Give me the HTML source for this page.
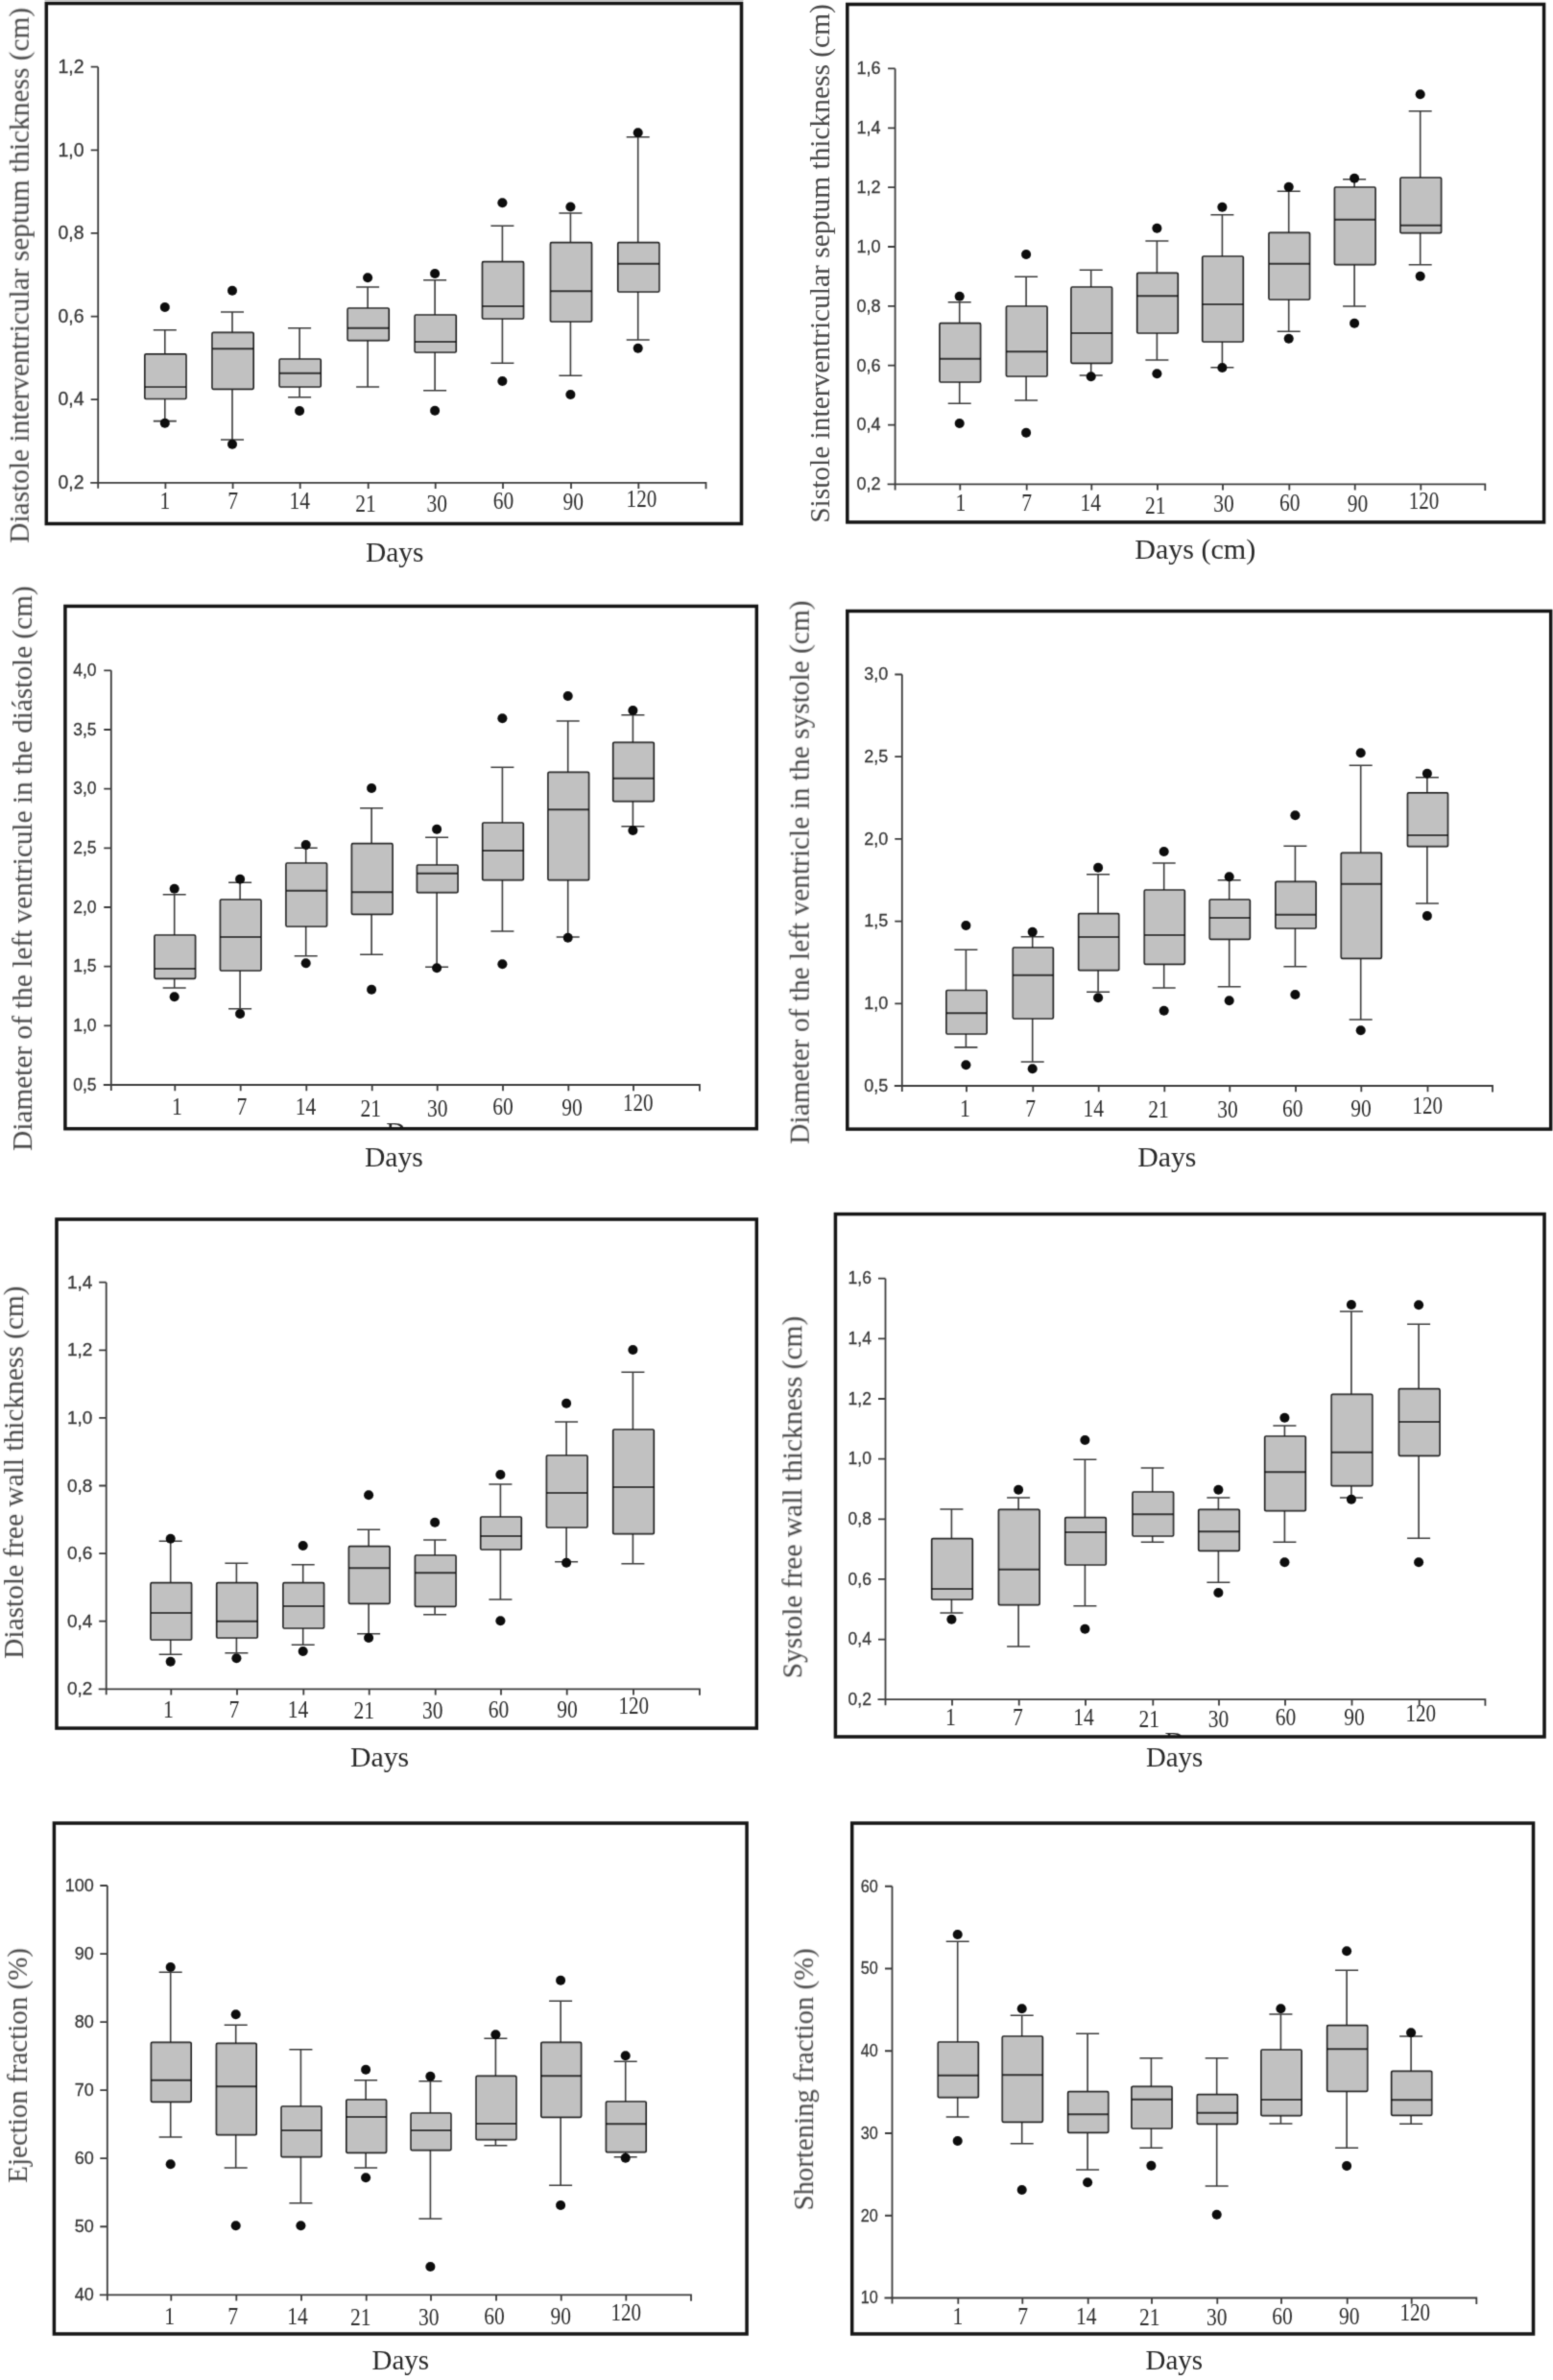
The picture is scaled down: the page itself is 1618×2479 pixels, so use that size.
<!DOCTYPE html>
<html lang="en"><head><meta charset="utf-8"><title>Echocardiographic box plots</title>
<style>html,body{margin:0;padding:0;background:#fff}svg{display:block}.fr{fill:none;stroke:#161616;stroke-width:3.5}.ax{stroke:#3c3c3c;stroke-width:1.8;fill:none}.bx{fill:#c1c1c1;stroke:#1c1c1c;stroke-width:1.7}.md{stroke:#1c1c1c;stroke-width:1.9}.wh{stroke:#3c3c3c;stroke-width:1.6;fill:none}.ot{fill:#0a0a0a}.yt{font-family:'Liberation Sans',Arial,sans-serif;font-size:18px;fill:#3a3a3a;stroke:#3a3a3a;stroke-width:0.3;text-anchor:end}.xt{font-family:'Liberation Serif','Times New Roman',serif;font-size:26px;fill:#2e2e2e;text-anchor:middle}.xl{font-family:'Liberation Serif','Times New Roman',serif;font-size:28.5px;fill:#2a2a2a}.yl{font-family:'Liberation Serif','Times New Roman',serif;font-size:29.6px;fill:#484848}</style></head><body>
<svg width="1618" height="2479" viewBox="0 0 1618 2479">
<rect width="1618" height="2479" fill="#fff"/>
<defs><filter id="soft" x="-5%" y="-5%" width="110%" height="110%"><feConvolveMatrix order="3" kernelMatrix="1 5 1 5 25 5 1 5 1" divisor="49" edgeMode="none" preserveAlpha="false"/></filter></defs>
<path d="M46.5 0.5H774.5" stroke="#cfcfcf" stroke-width="1" fill="none"/>
<g id="panel1" filter="url(#soft)">
<rect class="fr" x="48.3" y="3.5" width="724.2" height="542"/>
<path class="ax" d="M102.2 69.7V508.8M94.2 502.8H735.5V509.3M94.7 416.18H102.2M94.7 329.56H102.2M94.7 242.94H102.2M94.7 156.32H102.2M94.7 69.7H102.2M172.4 502.8v6.2M242.6 502.8v6.2M312.7 502.8v6.2M383.7 502.8v6.2M453.7 502.8v6.2M524 502.8v6.2M595 502.8v6.2M665.3 502.8v6.2"/>
<text class="yt" x="87.5" y="509.08" style="font-size:19.5px">0,2</text>
<text class="yt" x="87.5" y="422.46" style="font-size:19.5px">0,4</text>
<text class="yt" x="87.5" y="335.84" style="font-size:19.5px">0,6</text>
<text class="yt" x="87.5" y="249.22" style="font-size:19.5px">0,8</text>
<text class="yt" x="87.5" y="162.6" style="font-size:19.5px">1,0</text>
<text class="yt" x="87.5" y="75.98" style="font-size:19.5px">1,2</text>
<path class="wh" d="M171.8 343.8V368.8M171.8 415.5V438.6M159.8 343.8h24M159.8 438.6h24"/>
<rect class="bx" x="150.9" y="368.8" width="43" height="46.7" rx="1.2"/>
<path class="md" d="M150.9 403.1h43"/>
<circle class="ot" cx="171.8" cy="320" r="5.0"/>
<circle class="ot" cx="171.8" cy="440.8" r="5.0"/>
<path class="wh" d="M242 325V346.3M242 405.3V458M230 325h24M230 458h24"/>
<rect class="bx" x="221.1" y="346.3" width="43" height="59" rx="1.2"/>
<path class="md" d="M221.1 363.3h43"/>
<circle class="ot" cx="242" cy="302.7" r="5.0"/>
<circle class="ot" cx="242" cy="462.8" r="5.0"/>
<path class="wh" d="M312.1 341.7V374M312.1 403V413.7M300.1 341.7h24M300.1 413.7h24"/>
<rect class="bx" x="291.2" y="374" width="43" height="29" rx="1.2"/>
<path class="md" d="M291.2 388.7h43"/>
<circle class="ot" cx="312.1" cy="428" r="5.0"/>
<path class="wh" d="M383.1 299V321M383.1 354.7V403M371.1 299h24M371.1 403h24"/>
<rect class="bx" x="362.2" y="321" width="43" height="33.7" rx="1.2"/>
<path class="md" d="M362.2 341.7h43"/>
<circle class="ot" cx="383.1" cy="289.3" r="5.0"/>
<path class="wh" d="M453.1 291.7V328M453.1 367V406.7M441.1 291.7h24M441.1 406.7h24"/>
<rect class="bx" x="432.2" y="328" width="43" height="39" rx="1.2"/>
<path class="md" d="M432.2 356h43"/>
<circle class="ot" cx="453.1" cy="285" r="5.0"/>
<circle class="ot" cx="453.1" cy="427.7" r="5.0"/>
<path class="wh" d="M523.4 235.3V272.7M523.4 332V378.3M511.4 235.3h24M511.4 378.3h24"/>
<rect class="bx" x="502.5" y="272.7" width="43" height="59.3" rx="1.2"/>
<path class="md" d="M502.5 319h43"/>
<circle class="ot" cx="523.4" cy="211.3" r="5.0"/>
<circle class="ot" cx="523.4" cy="397" r="5.0"/>
<path class="wh" d="M594.4 222V252.7M594.4 335V391.3M582.4 222h24M582.4 391.3h24"/>
<rect class="bx" x="573.5" y="252.7" width="43" height="82.3" rx="1.2"/>
<path class="md" d="M573.5 303.3h43"/>
<circle class="ot" cx="594.4" cy="215.5" r="5.0"/>
<circle class="ot" cx="594.4" cy="411" r="5.0"/>
<path class="wh" d="M664.7 142.7V252.7M664.7 304V354M652.7 142.7h24M652.7 354h24"/>
<rect class="bx" x="643.8" y="252.7" width="43" height="51.3" rx="1.2"/>
<path class="md" d="M643.8 274.7h43"/>
<circle class="ot" cx="664.7" cy="138.3" r="5.0"/>
<circle class="ot" cx="664.7" cy="362.7" r="5.0"/>
<text class="xt" x="172" y="530.4" textLength="10.8" lengthAdjust="spacingAndGlyphs">1</text>
<text class="xt" x="242.6" y="530.4" textLength="10.8" lengthAdjust="spacingAndGlyphs">7</text>
<text class="xt" x="312.3" y="530.4" textLength="21.5" lengthAdjust="spacingAndGlyphs">14</text>
<text class="xt" x="381" y="532.8" textLength="21.5" lengthAdjust="spacingAndGlyphs">21</text>
<text class="xt" x="455.3" y="532.8" textLength="21.5" lengthAdjust="spacingAndGlyphs">30</text>
<text class="xt" x="524.4" y="530.4" textLength="21.5" lengthAdjust="spacingAndGlyphs">60</text>
<text class="xt" x="597.3" y="530.9" textLength="21.5" lengthAdjust="spacingAndGlyphs">90</text>
<text class="xt" x="668.4" y="527.9" textLength="31.6" lengthAdjust="spacingAndGlyphs">120</text>
<text class="yl" transform="translate(29.8 565.7) rotate(-90)" textLength="557.9" lengthAdjust="spacingAndGlyphs">Diastole interventricular septum thickness (cm)</text>
<text class="xl" x="380.9" y="585" textLength="60.5" lengthAdjust="spacingAndGlyphs">Days</text>
</g>
<g id="panel2" filter="url(#soft)">
<rect class="fr" x="882.8" y="4.5" width="725.8" height="539.4"/>
<path class="ax" d="M932.6 71.45V510.4M924.6 504.4H1547.3V510.9M925.1 442.55H932.6M925.1 380.7H932.6M925.1 318.85H932.6M925.1 257H932.6M925.1 195.15H932.6M925.1 133.3H932.6M925.1 71.45H932.6M1000.3 504.4v6.2M1069.7 504.4v6.2M1137.3 504.4v6.2M1206 504.4v6.2M1274 504.4v6.2M1343.3 504.4v6.2M1411.7 504.4v6.2M1480.3 504.4v6.2"/>
<text class="yt" x="917.5" y="510.2">0,2</text>
<text class="yt" x="917.5" y="448.35">0,4</text>
<text class="yt" x="917.5" y="386.5">0,6</text>
<text class="yt" x="917.5" y="324.65">0,8</text>
<text class="yt" x="917.5" y="262.8">1,0</text>
<text class="yt" x="917.5" y="200.95">1,2</text>
<text class="yt" x="917.5" y="139.1">1,4</text>
<text class="yt" x="917.5" y="77.25">1,6</text>
<path class="wh" d="M999.7 314.7V336.7M999.7 398V420.3M987.7 314.7h24M987.7 420.3h24"/>
<rect class="bx" x="979.05" y="336.7" width="42.5" height="61.3" rx="1.2"/>
<path class="md" d="M979.05 373.7h42.5"/>
<circle class="ot" cx="999.7" cy="308.7" r="5.0"/>
<circle class="ot" cx="999.7" cy="441" r="5.0"/>
<path class="wh" d="M1069.1 288.3V319M1069.1 392V417M1057.1 288.3h24M1057.1 417h24"/>
<rect class="bx" x="1048.45" y="319" width="42.5" height="73" rx="1.2"/>
<path class="md" d="M1048.45 366.3h42.5"/>
<circle class="ot" cx="1069.1" cy="265" r="5.0"/>
<circle class="ot" cx="1069.1" cy="450.7" r="5.0"/>
<path class="wh" d="M1136.7 281.3V299M1136.7 378.3V391M1124.7 281.3h24M1124.7 391h24"/>
<rect class="bx" x="1116.05" y="299" width="42.5" height="79.3" rx="1.2"/>
<path class="md" d="M1116.05 347h42.5"/>
<circle class="ot" cx="1136.7" cy="392.3" r="5.0"/>
<path class="wh" d="M1205.4 251V284.3M1205.4 347V375M1193.4 251h24M1193.4 375h24"/>
<rect class="bx" x="1184.75" y="284.3" width="42.5" height="62.7" rx="1.2"/>
<path class="md" d="M1184.75 308.3h42.5"/>
<circle class="ot" cx="1205.4" cy="237.7" r="5.0"/>
<circle class="ot" cx="1205.4" cy="389.3" r="5.0"/>
<path class="wh" d="M1273.4 223.7V267M1273.4 356V382.7M1261.4 223.7h24M1261.4 382.7h24"/>
<rect class="bx" x="1252.75" y="267" width="42.5" height="89" rx="1.2"/>
<path class="md" d="M1252.75 317h42.5"/>
<circle class="ot" cx="1273.4" cy="215.7" r="5.0"/>
<circle class="ot" cx="1273.4" cy="383" r="5.0"/>
<path class="wh" d="M1342.7 199.3V242.3M1342.7 312V345.3M1330.7 199.3h24M1330.7 345.3h24"/>
<rect class="bx" x="1322.05" y="242.3" width="42.5" height="69.7" rx="1.2"/>
<path class="md" d="M1322.05 274.7h42.5"/>
<circle class="ot" cx="1342.7" cy="194.7" r="5.0"/>
<circle class="ot" cx="1342.7" cy="352.7" r="5.0"/>
<path class="wh" d="M1411.1 186.7V195M1411.1 275.7V319M1399.1 186.7h24M1399.1 319h24"/>
<rect class="bx" x="1390.45" y="195" width="42.5" height="80.7" rx="1.2"/>
<path class="md" d="M1390.45 228.7h42.5"/>
<circle class="ot" cx="1411.1" cy="185.7" r="5.0"/>
<circle class="ot" cx="1411.1" cy="336.7" r="5.0"/>
<path class="wh" d="M1479.7 115.7V185M1479.7 242.7V275.7M1467.7 115.7h24M1467.7 275.7h24"/>
<rect class="bx" x="1459.05" y="185" width="42.5" height="57.7" rx="1.2"/>
<path class="md" d="M1459.05 234.7h42.5"/>
<circle class="ot" cx="1479.7" cy="98.3" r="5.0"/>
<circle class="ot" cx="1479.7" cy="287.7" r="5.0"/>
<text class="xt" x="1000.8" y="532.1" textLength="10.8" lengthAdjust="spacingAndGlyphs">1</text>
<text class="xt" x="1069.7" y="532.1" textLength="10.8" lengthAdjust="spacingAndGlyphs">7</text>
<text class="xt" x="1136.2" y="532.1" textLength="21.5" lengthAdjust="spacingAndGlyphs">14</text>
<text class="xt" x="1203.7" y="534.8" textLength="21.5" lengthAdjust="spacingAndGlyphs">21</text>
<text class="xt" x="1275" y="533.2" textLength="21.5" lengthAdjust="spacingAndGlyphs">30</text>
<text class="xt" x="1343.8" y="532.1" textLength="21.5" lengthAdjust="spacingAndGlyphs">60</text>
<text class="xt" x="1414.6" y="532.6" textLength="21.5" lengthAdjust="spacingAndGlyphs">90</text>
<text class="xt" x="1483.5" y="529.8" textLength="31.6" lengthAdjust="spacingAndGlyphs">120</text>
<text class="yl" transform="translate(864.4 544.8) rotate(-90)" textLength="540.6" lengthAdjust="spacingAndGlyphs">Sistole interventricular septum thickness (cm)</text>
<text class="xl" x="1182.2" y="582.3" textLength="126" lengthAdjust="spacingAndGlyphs">Days (cm)</text>
</g>
<g id="panel3" filter="url(#soft)">
<clipPath id="cp2"><rect x="67.9" y="1169.7" width="720.4" height="6"/></clipPath>
<text class="xl" x="402.3" y="1188.6" textLength="58.5" lengthAdjust="spacingAndGlyphs" clip-path="url(#cp2)">Days</text>
<rect class="fr" x="67.9" y="631.4" width="720.4" height="544.3"/>
<path class="ax" d="M115.8 698.31V1136M107.8 1130H728.9V1136.5M108.3 1068.33H115.8M108.3 1006.66H115.8M108.3 944.99H115.8M108.3 883.32H115.8M108.3 821.65H115.8M108.3 759.98H115.8M108.3 698.31H115.8M182.3 1130v6.2M250.7 1130v6.2M319.3 1130v6.2M387.7 1130v6.2M455.7 1130v6.2M524 1130v6.2M592.3 1130v6.2M660 1130v6.2"/>
<text class="yt" x="100.5" y="1135.64" style="font-size:17.5px">0,5</text>
<text class="yt" x="100.5" y="1073.97" style="font-size:17.5px">1,0</text>
<text class="yt" x="100.5" y="1012.3" style="font-size:17.5px">1,5</text>
<text class="yt" x="100.5" y="950.63" style="font-size:17.5px">2,0</text>
<text class="yt" x="100.5" y="888.96" style="font-size:17.5px">2,5</text>
<text class="yt" x="100.5" y="827.29" style="font-size:17.5px">3,0</text>
<text class="yt" x="100.5" y="765.62" style="font-size:17.5px">3,5</text>
<text class="yt" x="100.5" y="703.95" style="font-size:17.5px">4,0</text>
<path class="wh" d="M181.7 931.7V974M181.7 1019.3V1029M169.7 931.7h24M169.7 1029h24"/>
<rect class="bx" x="161.05" y="974" width="42.5" height="45.3" rx="1.2"/>
<path class="md" d="M161.05 1009h42.5"/>
<circle class="ot" cx="181.7" cy="925.7" r="5.0"/>
<circle class="ot" cx="181.7" cy="1038.3" r="5.0"/>
<path class="wh" d="M250.1 919.3V937M250.1 1011V1050.7M238.1 919.3h24M238.1 1050.7h24"/>
<rect class="bx" x="229.45" y="937" width="42.5" height="74" rx="1.2"/>
<path class="md" d="M229.45 976h42.5"/>
<circle class="ot" cx="250.1" cy="915.7" r="5.0"/>
<circle class="ot" cx="250.1" cy="1056" r="5.0"/>
<path class="wh" d="M318.7 883.3V899M318.7 965V995.7M306.7 883.3h24M306.7 995.7h24"/>
<rect class="bx" x="298.05" y="899" width="42.5" height="66" rx="1.2"/>
<path class="md" d="M298.05 927.7h42.5"/>
<circle class="ot" cx="318.7" cy="880" r="5.0"/>
<circle class="ot" cx="318.7" cy="1003.3" r="5.0"/>
<path class="wh" d="M387.1 841.7V878.7M387.1 952.3V994.3M375.1 841.7h24M375.1 994.3h24"/>
<rect class="bx" x="366.45" y="878.7" width="42.5" height="73.6" rx="1.2"/>
<path class="md" d="M366.45 929.3h42.5"/>
<circle class="ot" cx="387.1" cy="821" r="5.0"/>
<circle class="ot" cx="387.1" cy="1030.7" r="5.0"/>
<path class="wh" d="M455.1 872.3V901M455.1 929.7V1007.3M443.1 872.3h24M443.1 1007.3h24"/>
<rect class="bx" x="434.45" y="901" width="42.5" height="28.7" rx="1.2"/>
<path class="md" d="M434.45 909.7h42.5"/>
<circle class="ot" cx="455.1" cy="863.7" r="5.0"/>
<circle class="ot" cx="455.1" cy="1008.3" r="5.0"/>
<path class="wh" d="M523.4 799.3V857M523.4 916.7V970M511.4 799.3h24M511.4 970h24"/>
<rect class="bx" x="502.75" y="857" width="42.5" height="59.7" rx="1.2"/>
<path class="md" d="M502.75 886h42.5"/>
<circle class="ot" cx="523.4" cy="748.3" r="5.0"/>
<circle class="ot" cx="523.4" cy="1004.3" r="5.0"/>
<path class="wh" d="M591.7 751V804.3M591.7 916.7V976M579.7 751h24M579.7 976h24"/>
<rect class="bx" x="571.05" y="804.3" width="42.5" height="112.4" rx="1.2"/>
<path class="md" d="M571.05 843.3h42.5"/>
<circle class="ot" cx="591.7" cy="725" r="5.0"/>
<circle class="ot" cx="591.7" cy="976.7" r="5.0"/>
<path class="wh" d="M659.4 744.7V773.3M659.4 834.7V860.7M647.4 744.7h24M647.4 860.7h24"/>
<rect class="bx" x="638.75" y="773.3" width="42.5" height="61.4" rx="1.2"/>
<path class="md" d="M638.75 810.7h42.5"/>
<circle class="ot" cx="659.4" cy="740" r="5.0"/>
<circle class="ot" cx="659.4" cy="865" r="5.0"/>
<text class="xt" x="184.3" y="1160.6" textLength="10.8" lengthAdjust="spacingAndGlyphs">1</text>
<text class="xt" x="251.9" y="1160.6" textLength="10.8" lengthAdjust="spacingAndGlyphs">7</text>
<text class="xt" x="318.6" y="1160.6" textLength="21.5" lengthAdjust="spacingAndGlyphs">14</text>
<text class="xt" x="386.2" y="1163.2" textLength="21.5" lengthAdjust="spacingAndGlyphs">21</text>
<text class="xt" x="455.8" y="1163.2" textLength="21.5" lengthAdjust="spacingAndGlyphs">30</text>
<text class="xt" x="524" y="1160.6" textLength="21.5" lengthAdjust="spacingAndGlyphs">60</text>
<text class="xt" x="596" y="1161.6" textLength="21.5" lengthAdjust="spacingAndGlyphs">90</text>
<text class="xt" x="664.7" y="1156.6" textLength="31.6" lengthAdjust="spacingAndGlyphs">120</text>
<text class="yl" transform="translate(33.1 1198.8) rotate(-90)" textLength="588.6" lengthAdjust="spacingAndGlyphs">Diameter of the left ventricule in the diástole (cm)</text>
<text class="xl" x="379.9" y="1215.2" textLength="60.8" lengthAdjust="spacingAndGlyphs">Days</text>
</g>
<g id="panel4" filter="url(#soft)">
<rect class="fr" x="882.8" y="636.5" width="732.9" height="539.6"/>
<path class="ax" d="M939.8 702.5V1137M931.8 1131H1555V1137.5M932.3 1045.3H939.8M932.3 959.6H939.8M932.3 873.9H939.8M932.3 788.2H939.8M932.3 702.5H939.8M1007 1131v6.2M1076.3 1131v6.2M1144.7 1131v6.2M1213.3 1131v6.2M1281.3 1131v6.2M1350 1131v6.2M1418.3 1131v6.2M1487.5 1131v6.2"/>
<text class="yt" x="925.3" y="1136.8">0,5</text>
<text class="yt" x="925.3" y="1051.1">1,0</text>
<text class="yt" x="925.3" y="965.4">1,5</text>
<text class="yt" x="925.3" y="879.7">2,0</text>
<text class="yt" x="925.3" y="794">2,5</text>
<text class="yt" x="925.3" y="708.3">3,0</text>
<path class="wh" d="M1006.4 989.3V1031.5M1006.4 1077V1090.9M994.4 989.3h24M994.4 1090.9h24"/>
<rect class="bx" x="986" y="1031.5" width="42" height="45.5" rx="1.2"/>
<path class="md" d="M986 1055.3h42"/>
<circle class="ot" cx="1006.4" cy="964" r="5.0"/>
<circle class="ot" cx="1006.4" cy="1109.2" r="5.0"/>
<path class="wh" d="M1075.7 975.7V987M1075.7 1061V1106M1063.7 975.7h24M1063.7 1106h24"/>
<rect class="bx" x="1055.3" y="987" width="42" height="74" rx="1.2"/>
<path class="md" d="M1055.3 1015.7h42"/>
<circle class="ot" cx="1075.7" cy="970.7" r="5.0"/>
<circle class="ot" cx="1075.7" cy="1113.2" r="5.0"/>
<path class="wh" d="M1144.1 910.7V951.7M1144.1 1010.7V1033.3M1132.1 910.7h24M1132.1 1033.3h24"/>
<rect class="bx" x="1123.7" y="951.7" width="42" height="59" rx="1.2"/>
<path class="md" d="M1123.7 976h42"/>
<circle class="ot" cx="1144.1" cy="903.7" r="5.0"/>
<circle class="ot" cx="1144.1" cy="1039.3" r="5.0"/>
<path class="wh" d="M1212.7 899V927M1212.7 1004.3V1029M1200.7 899h24M1200.7 1029h24"/>
<rect class="bx" x="1192.3" y="927" width="42" height="77.3" rx="1.2"/>
<path class="md" d="M1192.3 974h42"/>
<circle class="ot" cx="1212.7" cy="887" r="5.0"/>
<circle class="ot" cx="1212.7" cy="1052.7" r="5.0"/>
<path class="wh" d="M1280.7 916.7V937M1280.7 978.3V1027.7M1268.7 916.7h24M1268.7 1027.7h24"/>
<rect class="bx" x="1260.3" y="937" width="42" height="41.3" rx="1.2"/>
<path class="md" d="M1260.3 956h42"/>
<circle class="ot" cx="1280.7" cy="913.3" r="5.0"/>
<circle class="ot" cx="1280.7" cy="1042.3" r="5.0"/>
<path class="wh" d="M1349.4 881.3V918.3M1349.4 967V1006.7M1337.4 881.3h24M1337.4 1006.7h24"/>
<rect class="bx" x="1329" y="918.3" width="42" height="48.7" rx="1.2"/>
<path class="md" d="M1329 952.7h42"/>
<circle class="ot" cx="1349.4" cy="849.3" r="5.0"/>
<circle class="ot" cx="1349.4" cy="1036" r="5.0"/>
<path class="wh" d="M1417.7 797.3V888.3M1417.7 998.3V1062M1405.7 797.3h24M1405.7 1062h24"/>
<rect class="bx" x="1397.3" y="888.3" width="42" height="110" rx="1.2"/>
<path class="md" d="M1397.3 920.7h42"/>
<circle class="ot" cx="1417.7" cy="784.3" r="5.0"/>
<circle class="ot" cx="1417.7" cy="1073.3" r="5.0"/>
<path class="wh" d="M1486.9 809.8V825.9M1486.9 881.7V941M1474.9 809.8h24M1474.9 941h24"/>
<rect class="bx" x="1466.5" y="825.9" width="42" height="55.8" rx="1.2"/>
<path class="md" d="M1466.5 870h42"/>
<circle class="ot" cx="1486.9" cy="805.8" r="5.0"/>
<circle class="ot" cx="1486.9" cy="954" r="5.0"/>
<text class="xt" x="1005.3" y="1162.9" textLength="10.8" lengthAdjust="spacingAndGlyphs">1</text>
<text class="xt" x="1073.6" y="1162.9" textLength="10.8" lengthAdjust="spacingAndGlyphs">7</text>
<text class="xt" x="1139.2" y="1162.9" textLength="21.5" lengthAdjust="spacingAndGlyphs">14</text>
<text class="xt" x="1207" y="1164.3" textLength="21.5" lengthAdjust="spacingAndGlyphs">21</text>
<text class="xt" x="1278.9" y="1164.3" textLength="21.5" lengthAdjust="spacingAndGlyphs">30</text>
<text class="xt" x="1346.7" y="1162.6" textLength="21.5" lengthAdjust="spacingAndGlyphs">60</text>
<text class="xt" x="1418.1" y="1162.6" textLength="21.5" lengthAdjust="spacingAndGlyphs">90</text>
<text class="xt" x="1487.2" y="1159.8" textLength="31.6" lengthAdjust="spacingAndGlyphs">120</text>
<text class="yl" transform="translate(842.7 1191.7) rotate(-90)" textLength="566.3" lengthAdjust="spacingAndGlyphs">Diameter of the left ventricle in the systole (cm)</text>
<text class="xl" x="1185.2" y="1215" textLength="61.2" lengthAdjust="spacingAndGlyphs">Days</text>
</g>
<g id="panel5" filter="url(#soft)">
<rect class="fr" x="59" y="1270" width="729.3" height="530.1"/>
<path class="ax" d="M110.7 1335.7V1765.3M102.7 1759.3H728.9V1765.8M103.2 1688.7H110.7M103.2 1618.1H110.7M103.2 1547.5H110.7M103.2 1476.9H110.7M103.2 1406.3H110.7M103.2 1335.7H110.7M178.3 1759.3v6.2M247 1759.3v6.2M316.3 1759.3v6.2M384.7 1759.3v6.2M453.7 1759.3v6.2M522 1759.3v6.2M590.7 1759.3v6.2M660 1759.3v6.2"/>
<text class="yt" x="96.4" y="1765.42" style="font-size:19px">0,2</text>
<text class="yt" x="96.4" y="1694.82" style="font-size:19px">0,4</text>
<text class="yt" x="96.4" y="1624.22" style="font-size:19px">0,6</text>
<text class="yt" x="96.4" y="1553.62" style="font-size:19px">0,8</text>
<text class="yt" x="96.4" y="1483.02" style="font-size:19px">1,0</text>
<text class="yt" x="96.4" y="1412.42" style="font-size:19px">1,2</text>
<text class="yt" x="96.4" y="1341.82" style="font-size:19px">1,4</text>
<path class="wh" d="M177.7 1605.3V1648.7M177.7 1708V1723.3M165.7 1605.3h24M165.7 1723.3h24"/>
<rect class="bx" x="157.05" y="1648.7" width="42.5" height="59.3" rx="1.2"/>
<path class="md" d="M157.05 1680h42.5"/>
<circle class="ot" cx="177.7" cy="1602.7" r="5.0"/>
<circle class="ot" cx="177.7" cy="1730.7" r="5.0"/>
<path class="wh" d="M246.4 1628.3V1648.7M246.4 1706V1721.7M234.4 1628.3h24M234.4 1721.7h24"/>
<rect class="bx" x="225.75" y="1648.7" width="42.5" height="57.3" rx="1.2"/>
<path class="md" d="M225.75 1688.7h42.5"/>
<circle class="ot" cx="246.4" cy="1727.3" r="5.0"/>
<path class="wh" d="M315.7 1629.7V1648.7M315.7 1696V1713.3M303.7 1629.7h24M303.7 1713.3h24"/>
<rect class="bx" x="295.05" y="1648.7" width="42.5" height="47.3" rx="1.2"/>
<path class="md" d="M295.05 1673h42.5"/>
<circle class="ot" cx="315.7" cy="1610" r="5.0"/>
<circle class="ot" cx="315.7" cy="1720" r="5.0"/>
<path class="wh" d="M384.1 1593.3V1610.7M384.1 1670.3V1701.7M372.1 1593.3h24M372.1 1701.7h24"/>
<rect class="bx" x="363.45" y="1610.7" width="42.5" height="59.6" rx="1.2"/>
<path class="md" d="M363.45 1633.3h42.5"/>
<circle class="ot" cx="384.1" cy="1557.3" r="5.0"/>
<circle class="ot" cx="384.1" cy="1706" r="5.0"/>
<path class="wh" d="M453.1 1604V1620M453.1 1673.3V1681.7M441.1 1604h24M441.1 1681.7h24"/>
<rect class="bx" x="432.45" y="1620" width="42.5" height="53.3" rx="1.2"/>
<path class="md" d="M432.45 1638.3h42.5"/>
<circle class="ot" cx="453.1" cy="1585.7" r="5.0"/>
<path class="wh" d="M521.4 1546V1580M521.4 1614V1666M509.4 1546h24M509.4 1666h24"/>
<rect class="bx" x="500.75" y="1580" width="42.5" height="34" rx="1.2"/>
<path class="md" d="M500.75 1600h42.5"/>
<circle class="ot" cx="521.4" cy="1536" r="5.0"/>
<circle class="ot" cx="521.4" cy="1688.3" r="5.0"/>
<path class="wh" d="M590.1 1481V1516M590.1 1591V1626.7M578.1 1481h24M578.1 1626.7h24"/>
<rect class="bx" x="569.45" y="1516" width="42.5" height="75" rx="1.2"/>
<path class="md" d="M569.45 1555h42.5"/>
<circle class="ot" cx="590.1" cy="1461.7" r="5.0"/>
<circle class="ot" cx="590.1" cy="1627.7" r="5.0"/>
<path class="wh" d="M659.4 1429.3V1489M659.4 1597.7V1628.7M647.4 1429.3h24M647.4 1628.7h24"/>
<rect class="bx" x="638.75" y="1489" width="42.5" height="108.7" rx="1.2"/>
<path class="md" d="M638.75 1549h42.5"/>
<circle class="ot" cx="659.4" cy="1406" r="5.0"/>
<text class="xt" x="175.3" y="1788.6" textLength="10.8" lengthAdjust="spacingAndGlyphs">1</text>
<text class="xt" x="243.9" y="1788.6" textLength="10.8" lengthAdjust="spacingAndGlyphs">7</text>
<text class="xt" x="310.5" y="1788.6" textLength="21.5" lengthAdjust="spacingAndGlyphs">14</text>
<text class="xt" x="379.2" y="1789.6" textLength="21.5" lengthAdjust="spacingAndGlyphs">21</text>
<text class="xt" x="450.8" y="1789.6" textLength="21.5" lengthAdjust="spacingAndGlyphs">30</text>
<text class="xt" x="519.5" y="1788.6" textLength="21.5" lengthAdjust="spacingAndGlyphs">60</text>
<text class="xt" x="591.1" y="1788.6" textLength="21.5" lengthAdjust="spacingAndGlyphs">90</text>
<text class="xt" x="660.2" y="1784.6" textLength="31.6" lengthAdjust="spacingAndGlyphs">120</text>
<text class="yl" transform="translate(24.1 1727.8) rotate(-90)" textLength="388.4" lengthAdjust="spacingAndGlyphs">Diastole free wall thickness (cm)</text>
<text class="xl" x="365" y="1840.4" textLength="61.2" lengthAdjust="spacingAndGlyphs">Days</text>
</g>
<g id="panel6" filter="url(#soft)">
<clipPath id="cp5"><rect x="870.4" y="1803" width="738.6" height="6"/></clipPath>
<text class="xl" x="1213.4" y="1824.4" textLength="58.5" lengthAdjust="spacingAndGlyphs" clip-path="url(#cp5)">Days</text>
<rect class="fr" x="870.4" y="1264.6" width="738.6" height="544.4"/>
<path class="ax" d="M922.5 1331.72V1776.2M914.5 1770.2H1547.4V1776.7M915 1707.56H922.5M915 1644.92H922.5M915 1582.28H922.5M915 1519.64H922.5M915 1457H922.5M915 1394.36H922.5M915 1331.72H922.5M992 1770.2v6.2M1061.7 1770.2v6.2M1131 1770.2v6.2M1201.3 1770.2v6.2M1270 1770.2v6.2M1339 1770.2v6.2M1408.5 1770.2v6.2M1478.7 1770.2v6.2"/>
<text class="yt" x="907.9" y="1775.84" style="font-size:17.5px">0,2</text>
<text class="yt" x="907.9" y="1713.2" style="font-size:17.5px">0,4</text>
<text class="yt" x="907.9" y="1650.56" style="font-size:17.5px">0,6</text>
<text class="yt" x="907.9" y="1587.92" style="font-size:17.5px">0,8</text>
<text class="yt" x="907.9" y="1525.28" style="font-size:17.5px">1,0</text>
<text class="yt" x="907.9" y="1462.64" style="font-size:17.5px">1,2</text>
<text class="yt" x="907.9" y="1400" style="font-size:17.5px">1,4</text>
<text class="yt" x="907.9" y="1337.36" style="font-size:17.5px">1,6</text>
<path class="wh" d="M991.4 1572V1602.7M991.4 1666V1680M979.4 1572h24M979.4 1680h24"/>
<rect class="bx" x="970.75" y="1602.7" width="42.5" height="63.3" rx="1.2"/>
<path class="md" d="M970.75 1655h42.5"/>
<circle class="ot" cx="991.4" cy="1686.7" r="5.0"/>
<path class="wh" d="M1061.1 1560V1572.3M1061.1 1671.7V1715M1049.1 1560h24M1049.1 1715h24"/>
<rect class="bx" x="1040.45" y="1572.3" width="42.5" height="99.4" rx="1.2"/>
<path class="md" d="M1040.45 1634.7h42.5"/>
<circle class="ot" cx="1061.1" cy="1551.7" r="5.0"/>
<path class="wh" d="M1130.4 1520.3V1580.7M1130.4 1630V1672.7M1118.4 1520.3h24M1118.4 1672.7h24"/>
<rect class="bx" x="1109.75" y="1580.7" width="42.5" height="49.3" rx="1.2"/>
<path class="md" d="M1109.75 1596h42.5"/>
<circle class="ot" cx="1130.4" cy="1500" r="5.0"/>
<circle class="ot" cx="1130.4" cy="1696.7" r="5.0"/>
<path class="wh" d="M1200.7 1529V1554M1200.7 1600V1606.3M1188.7 1529h24M1188.7 1606.3h24"/>
<rect class="bx" x="1180.05" y="1554" width="42.5" height="46" rx="1.2"/>
<path class="md" d="M1180.05 1577.3h42.5"/>
<path class="wh" d="M1269.4 1560V1572.3M1269.4 1615.3V1648.3M1257.4 1560h24M1257.4 1648.3h24"/>
<rect class="bx" x="1248.75" y="1572.3" width="42.5" height="43" rx="1.2"/>
<path class="md" d="M1248.75 1595.3h42.5"/>
<circle class="ot" cx="1269.4" cy="1551.7" r="5.0"/>
<circle class="ot" cx="1269.4" cy="1659" r="5.0"/>
<path class="wh" d="M1338.4 1485V1496M1338.4 1573.7V1606.3M1326.4 1485h24M1326.4 1606.3h24"/>
<rect class="bx" x="1317.75" y="1496" width="42.5" height="77.7" rx="1.2"/>
<path class="md" d="M1317.75 1533.3h42.5"/>
<circle class="ot" cx="1338.4" cy="1476.7" r="5.0"/>
<circle class="ot" cx="1338.4" cy="1627.3" r="5.0"/>
<path class="wh" d="M1407.9 1366V1452.3M1407.9 1547.7V1560M1395.9 1366h24M1395.9 1560h24"/>
<rect class="bx" x="1387.25" y="1452.3" width="42.5" height="95.4" rx="1.2"/>
<path class="md" d="M1387.25 1512.7h42.5"/>
<circle class="ot" cx="1407.9" cy="1359" r="5.0"/>
<circle class="ot" cx="1407.9" cy="1561.7" r="5.0"/>
<path class="wh" d="M1478.1 1379.3V1446.7M1478.1 1516.3V1602.3M1466.1 1379.3h24M1466.1 1602.3h24"/>
<rect class="bx" x="1457.45" y="1446.7" width="42.5" height="69.6" rx="1.2"/>
<path class="md" d="M1457.45 1481h42.5"/>
<circle class="ot" cx="1478.1" cy="1359.3" r="5.0"/>
<circle class="ot" cx="1478.1" cy="1627.3" r="5.0"/>
<text class="xt" x="990.3" y="1796.8" textLength="10.8" lengthAdjust="spacingAndGlyphs">1</text>
<text class="xt" x="1060.4" y="1796.8" textLength="10.8" lengthAdjust="spacingAndGlyphs">7</text>
<text class="xt" x="1129" y="1796.8" textLength="21.5" lengthAdjust="spacingAndGlyphs">14</text>
<text class="xt" x="1197.2" y="1799.3" textLength="21.5" lengthAdjust="spacingAndGlyphs">21</text>
<text class="xt" x="1269.4" y="1799.3" textLength="21.5" lengthAdjust="spacingAndGlyphs">30</text>
<text class="xt" x="1339.5" y="1796.6" textLength="21.5" lengthAdjust="spacingAndGlyphs">60</text>
<text class="xt" x="1411.1" y="1796.6" textLength="21.5" lengthAdjust="spacingAndGlyphs">90</text>
<text class="xt" x="1480.3" y="1793.3" textLength="31.6" lengthAdjust="spacingAndGlyphs">120</text>
<text class="yl" transform="translate(835.3 1748.3) rotate(-90)" textLength="377.5" lengthAdjust="spacingAndGlyphs">Systole free wall thickness (cm)</text>
<text class="xl" x="1193.9" y="1840.3" textLength="59.3" lengthAdjust="spacingAndGlyphs">Days</text>
</g>
<g id="panel7" filter="url(#soft)">
<rect class="fr" x="56.4" y="1899" width="721.7" height="532"/>
<path class="ax" d="M111.8 1964V2396.3M103.8 2390.3H720V2396.8M104.3 2319.25H111.8M104.3 2248.2H111.8M104.3 2177.15H111.8M104.3 2106.1H111.8M104.3 2035.05H111.8M104.3 1964H111.8M178.3 2390.3v6.2M246.3 2390.3v6.2M314 2390.3v6.2M381.7 2390.3v6.2M449 2390.3v6.2M517 2390.3v6.2M584.7 2390.3v6.2M652.3 2390.3v6.2"/>
<text class="yt" x="97.9" y="2396.1">40</text>
<text class="yt" x="97.9" y="2325.05">50</text>
<text class="yt" x="97.9" y="2254">60</text>
<text class="yt" x="97.9" y="2182.95">70</text>
<text class="yt" x="97.9" y="2111.9">80</text>
<text class="yt" x="97.9" y="2040.85">90</text>
<text class="yt" x="97.9" y="1969.8">100</text>
<path class="wh" d="M177.7 2054.3V2127.3M177.7 2189.3V2226M165.7 2054.3h24M165.7 2226h24"/>
<rect class="bx" x="157.45" y="2127.3" width="41.7" height="62" rx="1.2"/>
<path class="md" d="M157.45 2166.7h41.7"/>
<circle class="ot" cx="177.7" cy="2049" r="5.0"/>
<circle class="ot" cx="177.7" cy="2254.3" r="5.0"/>
<path class="wh" d="M245.7 2109.3V2128.3M245.7 2223.7V2258M233.7 2109.3h24M233.7 2258h24"/>
<rect class="bx" x="225.45" y="2128.3" width="41.7" height="95.4" rx="1.2"/>
<path class="md" d="M225.45 2173.3h41.7"/>
<circle class="ot" cx="245.7" cy="2098.3" r="5.0"/>
<circle class="ot" cx="245.7" cy="2318.3" r="5.0"/>
<path class="wh" d="M313.4 2134.7V2194M313.4 2246.7V2294.7M301.4 2134.7h24M301.4 2294.7h24"/>
<rect class="bx" x="293.15" y="2194" width="41.7" height="52.7" rx="1.2"/>
<path class="md" d="M293.15 2219h41.7"/>
<circle class="ot" cx="313.4" cy="2318.3" r="5.0"/>
<path class="wh" d="M381.1 2166.7V2187M381.1 2242.3V2258M369.1 2166.7h24M369.1 2258h24"/>
<rect class="bx" x="360.85" y="2187" width="41.7" height="55.3" rx="1.2"/>
<path class="md" d="M360.85 2205h41.7"/>
<circle class="ot" cx="381.1" cy="2155.7" r="5.0"/>
<circle class="ot" cx="381.1" cy="2268.3" r="5.0"/>
<path class="wh" d="M448.4 2167.7V2201M448.4 2239.7V2311M436.4 2167.7h24M436.4 2311h24"/>
<rect class="bx" x="428.15" y="2201" width="41.7" height="38.7" rx="1.2"/>
<path class="md" d="M428.15 2219h41.7"/>
<circle class="ot" cx="448.4" cy="2162.7" r="5.0"/>
<circle class="ot" cx="448.4" cy="2361" r="5.0"/>
<path class="wh" d="M516.4 2123.3V2162.3M516.4 2228.7V2234.7M504.4 2123.3h24M504.4 2234.7h24"/>
<rect class="bx" x="496.15" y="2162.3" width="41.7" height="66.4" rx="1.2"/>
<path class="md" d="M496.15 2212h41.7"/>
<circle class="ot" cx="516.4" cy="2119.3" r="5.0"/>
<path class="wh" d="M584.1 2084.3V2127.3M584.1 2205.3V2276.3M572.1 2084.3h24M572.1 2276.3h24"/>
<rect class="bx" x="563.85" y="2127.3" width="41.7" height="78" rx="1.2"/>
<path class="md" d="M563.85 2162.3h41.7"/>
<circle class="ot" cx="584.1" cy="2062.7" r="5.0"/>
<circle class="ot" cx="584.1" cy="2297" r="5.0"/>
<path class="wh" d="M651.7 2147.3V2189M651.7 2241.7V2246.7M639.7 2147.3h24M639.7 2246.7h24"/>
<rect class="bx" x="631.45" y="2189" width="41.7" height="52.7" rx="1.2"/>
<path class="md" d="M631.45 2212.3h41.7"/>
<circle class="ot" cx="651.7" cy="2141.3" r="5.0"/>
<circle class="ot" cx="651.7" cy="2247.7" r="5.0"/>
<text class="xt" x="176.7" y="2420.6" textLength="10.8" lengthAdjust="spacingAndGlyphs">1</text>
<text class="xt" x="242.7" y="2420.6" textLength="10.8" lengthAdjust="spacingAndGlyphs">7</text>
<text class="xt" x="310" y="2420.6" textLength="21.5" lengthAdjust="spacingAndGlyphs">14</text>
<text class="xt" x="375.7" y="2421.6" textLength="21.5" lengthAdjust="spacingAndGlyphs">21</text>
<text class="xt" x="446.7" y="2421.6" textLength="21.5" lengthAdjust="spacingAndGlyphs">30</text>
<text class="xt" x="515" y="2420.6" textLength="21.5" lengthAdjust="spacingAndGlyphs">60</text>
<text class="xt" x="584.3" y="2421.3" textLength="21.5" lengthAdjust="spacingAndGlyphs">90</text>
<text class="xt" x="652.3" y="2417.3" textLength="31.6" lengthAdjust="spacingAndGlyphs">120</text>
<text class="yl" transform="translate(28 2273.7) rotate(-90)" textLength="244.7" lengthAdjust="spacingAndGlyphs">Ejection fraction (%)</text>
<text class="xl" x="387.5" y="2468.3" textLength="59.6" lengthAdjust="spacingAndGlyphs">Days</text>
</g>
<g id="panel8" filter="url(#soft)">
<rect class="fr" x="887.7" y="1899" width="709.8" height="532"/>
<path class="ax" d="M929.5 1964.75V2399.5M921.5 2393.5H1538.3V2400M922 2307.75H929.5M922 2222H929.5M922 2136.25H929.5M922 2050.5H929.5M922 1964.75H929.5M998.3 2393.5v6.2M1065.3 2393.5v6.2M1133.7 2393.5v6.2M1200 2393.5v6.2M1268.3 2393.5v6.2M1335 2393.5v6.2M1403.7 2393.5v6.2M1470.7 2393.5v6.2"/>
<text class="yt" x="914.8" y="2399.3" textLength="18" lengthAdjust="spacingAndGlyphs">10</text>
<text class="yt" x="914.8" y="2313.55" textLength="18" lengthAdjust="spacingAndGlyphs">20</text>
<text class="yt" x="914.8" y="2227.8" textLength="18" lengthAdjust="spacingAndGlyphs">30</text>
<text class="yt" x="914.8" y="2142.05" textLength="18" lengthAdjust="spacingAndGlyphs">40</text>
<text class="yt" x="914.8" y="2056.3" textLength="18" lengthAdjust="spacingAndGlyphs">50</text>
<text class="yt" x="914.8" y="1970.55" textLength="18" lengthAdjust="spacingAndGlyphs">60</text>
<path class="wh" d="M997.7 2022.3V2127M997.7 2184.7V2205M985.7 2022.3h24M985.7 2205h24"/>
<rect class="bx" x="977.3" y="2127" width="42" height="57.7" rx="1.2"/>
<path class="md" d="M977.3 2161.7h42"/>
<circle class="ot" cx="997.7" cy="2015" r="5.0"/>
<circle class="ot" cx="997.7" cy="2230" r="5.0"/>
<path class="wh" d="M1064.7 2099.3V2121M1064.7 2210.3V2232.7M1052.7 2099.3h24M1052.7 2232.7h24"/>
<rect class="bx" x="1044.3" y="2121" width="42" height="89.3" rx="1.2"/>
<path class="md" d="M1044.3 2161.3h42"/>
<circle class="ot" cx="1064.7" cy="2092.3" r="5.0"/>
<circle class="ot" cx="1064.7" cy="2281" r="5.0"/>
<path class="wh" d="M1133.1 2118.3V2178.7M1133.1 2221.3V2260M1121.1 2118.3h24M1121.1 2260h24"/>
<rect class="bx" x="1112.7" y="2178.7" width="42" height="42.6" rx="1.2"/>
<path class="md" d="M1112.7 2202.3h42"/>
<circle class="ot" cx="1133.1" cy="2273.3" r="5.0"/>
<path class="wh" d="M1199.4 2143.7V2173.3M1199.4 2217V2237.3M1187.4 2143.7h24M1187.4 2237.3h24"/>
<rect class="bx" x="1179" y="2173.3" width="42" height="43.7" rx="1.2"/>
<path class="md" d="M1179 2186.7h42"/>
<circle class="ot" cx="1199.4" cy="2255.7" r="5.0"/>
<path class="wh" d="M1267.7 2143.7V2181.7M1267.7 2212.3V2277M1255.7 2143.7h24M1255.7 2277h24"/>
<rect class="bx" x="1247.3" y="2181.7" width="42" height="30.6" rx="1.2"/>
<path class="md" d="M1247.3 2200.7h42"/>
<circle class="ot" cx="1267.7" cy="2306.7" r="5.0"/>
<path class="wh" d="M1334.4 2098V2135M1334.4 2203.7V2212M1322.4 2098h24M1322.4 2212h24"/>
<rect class="bx" x="1314" y="2135" width="42" height="68.7" rx="1.2"/>
<path class="md" d="M1314 2187h42"/>
<circle class="ot" cx="1334.4" cy="2092.3" r="5.0"/>
<path class="wh" d="M1403.1 2052.3V2109.7M1403.1 2178.3V2237.3M1391.1 2052.3h24M1391.1 2237.3h24"/>
<rect class="bx" x="1382.7" y="2109.7" width="42" height="68.6" rx="1.2"/>
<path class="md" d="M1382.7 2134.3h42"/>
<circle class="ot" cx="1403.1" cy="2032.3" r="5.0"/>
<circle class="ot" cx="1403.1" cy="2256" r="5.0"/>
<path class="wh" d="M1470.1 2121V2157.3M1470.1 2203.3V2212.3M1458.1 2121h24M1458.1 2212.3h24"/>
<rect class="bx" x="1449.7" y="2157.3" width="42" height="46" rx="1.2"/>
<path class="md" d="M1449.7 2187.3h42"/>
<circle class="ot" cx="1470.1" cy="2117.3" r="5.0"/>
<text class="xt" x="998" y="2421.3" textLength="10.8" lengthAdjust="spacingAndGlyphs">1</text>
<text class="xt" x="1065.7" y="2421.3" textLength="10.8" lengthAdjust="spacingAndGlyphs">7</text>
<text class="xt" x="1131.7" y="2421.3" textLength="21.5" lengthAdjust="spacingAndGlyphs">14</text>
<text class="xt" x="1197.7" y="2422.1" textLength="21.5" lengthAdjust="spacingAndGlyphs">21</text>
<text class="xt" x="1267.7" y="2422.1" textLength="21.5" lengthAdjust="spacingAndGlyphs">30</text>
<text class="xt" x="1336" y="2421.3" textLength="21.5" lengthAdjust="spacingAndGlyphs">60</text>
<text class="xt" x="1405.7" y="2421.3" textLength="21.5" lengthAdjust="spacingAndGlyphs">90</text>
<text class="xt" x="1474.3" y="2417.3" textLength="31.6" lengthAdjust="spacingAndGlyphs">120</text>
<text class="yl" transform="translate(847.1 2302.4) rotate(-90)" textLength="273" lengthAdjust="spacingAndGlyphs">Shortening fraction (%)</text>
<text class="xl" x="1193.5" y="2468.3" textLength="59.6" lengthAdjust="spacingAndGlyphs">Days</text>
</g>
</svg></body></html>
